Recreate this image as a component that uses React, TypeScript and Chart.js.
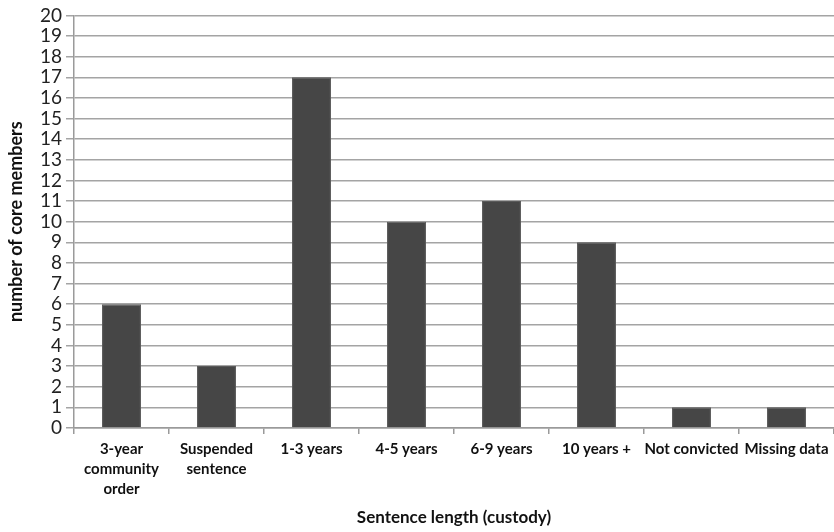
import React, { useEffect, useRef } from "react";
import { Chart, registerables } from "chart.js";

Chart.register(...registerables);

const categories: (string | string[])[] = [
  ["3-year", "community", "order"],
  ["Suspended", "sentence"],
  "1-3 years",
  "4-5 years",
  "6-9 years",
  "10 years +",
  "Not convicted",
  "Missing data",
];
const counts = [6, 3, 17, 10, 11, 9, 1, 1];
const yMin = 0;
const yMax = 20;
const yStep = 1;

const FONT = "Lato, 'Open Sans', sans-serif";

export default function App() {
  const ref = useRef<HTMLCanvasElement | null>(null);
  useEffect(() => {
    if (!ref.current) return;
    const chart = new Chart(ref.current, {
      type: "bar",
      data: {
        labels: categories,
        datasets: [
          {
            data: counts,
            backgroundColor: "#464646",
            borderColor: "#5a5a5a",
            borderWidth: 1,
            barPercentage: 1,
            categoryPercentage: 0.41,
          },
        ],
      },
      options: {
        animation: false,
        responsive: false,
        maintainAspectRatio: false,
        layout: { padding: { top: 14, right: 0, left: 0, bottom: 0 } },
        plugins: { legend: { display: false }, tooltip: { enabled: false } },
        scales: {
          x: {
            grid: {
              offset: true,
              drawOnChartArea: false,
              drawTicks: true,
              tickLength: 6,
              color: "#9a9a9a",
              lineWidth: 1.5,
            },
            border: { color: "#9a9a9a", width: 1.5 },
            ticks: {
              color: "#111",
              font: { family: FONT, size: 15, weight: "bold", lineHeight: 1.35 },
              padding: 5,
              maxRotation: 0,
              autoSkip: false,
            },
            title: {
              display: true,
              text: "Sentence length (custody)",
              color: "#111",
              font: { family: FONT, size: 17, weight: "bold" },
              padding: { top: 0, bottom: 4 },
            },
            afterFit: (s: any) => {
              s.height = 104;
            },
          },
          y: {
            min: yMin,
            max: yMax,
            ticks: {
              stepSize: yStep,
              autoSkip: false,
              color: "#222",
              font: { family: FONT, size: 19 },
              padding: 4,
            },
            grid: {
              color: "#a4a4a4",
              lineWidth: 1.5,
              tickLength: 8,
            },
            border: { color: "#9a9a9a", width: 1.5 },
            title: {
              display: true,
              text: "number of core members",
              color: "#111",
              font: { family: FONT, size: 18, weight: "bold" },
              padding: { top: 5, bottom: 0 },
            },
            afterFit: (s: any) => {
              s.width = 74;
            },
          },
        },
      },
    });
    return () => chart.destroy();
  }, []);
  return (
    <div style={{ position: "fixed", left: 0, top: 0, width: 834, height: 532, background: "#fff" }}>
      <canvas ref={ref} width={834} height={532} style={{ display: "block" }} />
    </div>
  );
}
